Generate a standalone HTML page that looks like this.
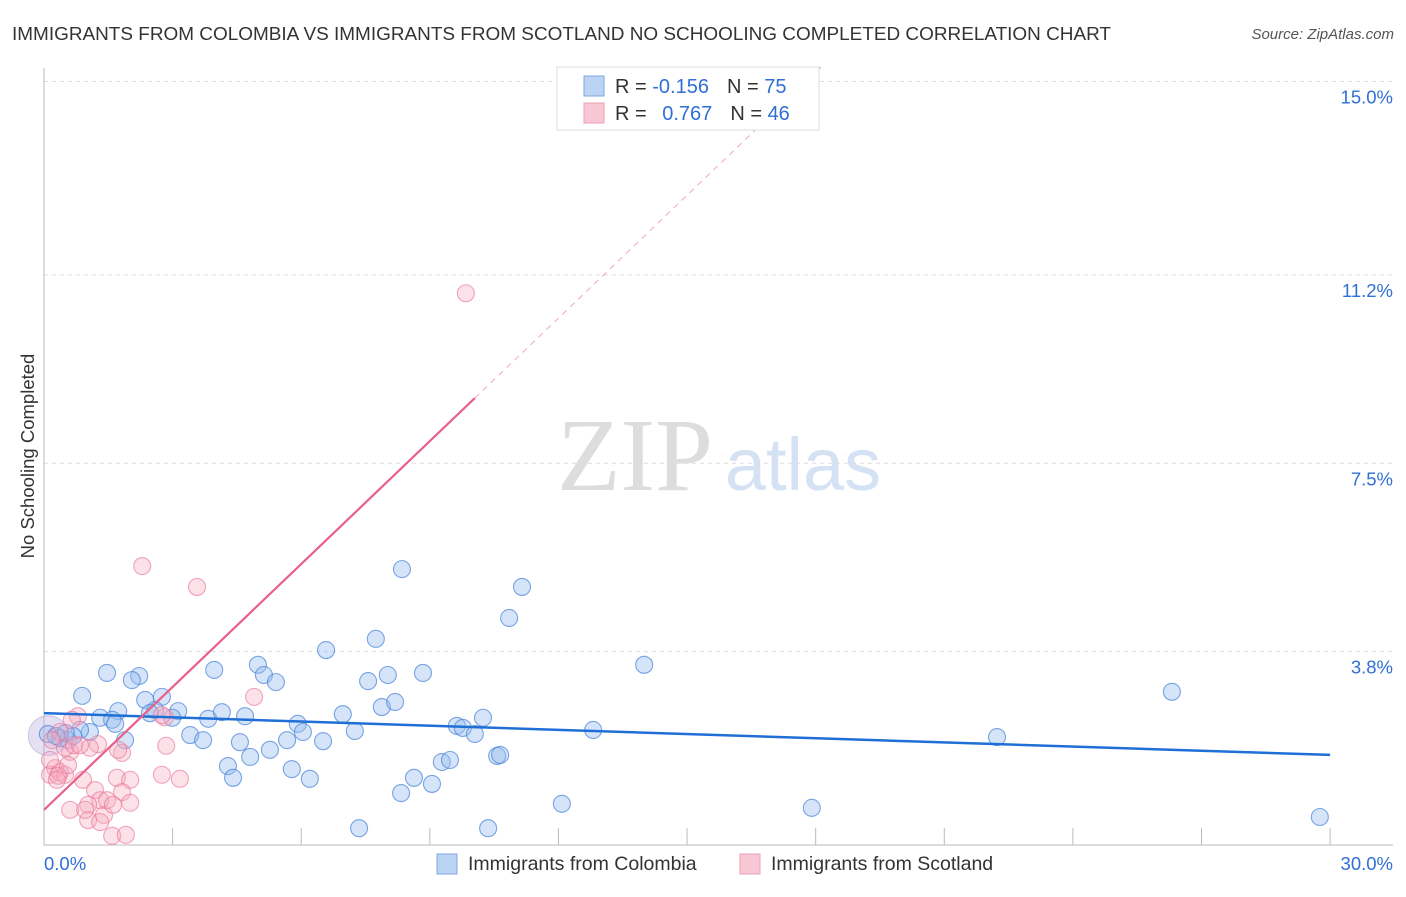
<!DOCTYPE html>
<html><head><meta charset="utf-8"><style>
body{margin:0;background:#fff;font-family:"Liberation Sans",sans-serif;}
svg text{font-family:"Liberation Sans",sans-serif;}
</style></head><body>
<svg id="chart" width="1406" height="892">
<text x="12" y="40" font-size="18" fill="#333" textLength="1099" lengthAdjust="spacingAndGlyphs">IMMIGRANTS FROM COLOMBIA VS IMMIGRANTS FROM SCOTLAND NO SCHOOLING COMPLETED CORRELATION CHART</text>
<text x="1394" y="39" font-size="15" fill="#555" font-style="italic" text-anchor="end">Source: ZipAtlas.com</text>
<text x="34" y="456" font-size="18.5" fill="#333" text-anchor="middle" transform="rotate(-90 34 456)">No Schooling Completed</text>
<g><text x="635" y="490" font-size="104" fill="#ddd" style="font-family:'Liberation Serif',serif" text-anchor="middle">ZIP</text><text x="803" y="490" font-size="74" fill="#d5e2f4" text-anchor="middle">atlas</text></g>
<g id="grid"></g><g id="axes"></g><g id="pts"></g><g id="lines"></g>
<g>
<rect x="557" y="67" width="262" height="63" fill="#fff" stroke="#ddd"/>
<rect x="584" y="76" width="20" height="20" fill="#bcd4f4" stroke="#7fa8e0"/>
<rect x="584" y="103" width="20" height="20" fill="#f8c6d4" stroke="#eba0b6"/>
<text x="615" y="93" font-size="20" fill="#333">R = <tspan fill="#2f6fd6">-0.156</tspan><tspan dx="18">N = </tspan><tspan fill="#2f6fd6">75</tspan></text>
<text x="615" y="120" font-size="20" fill="#333">R = <tspan fill="#2f6fd6" dx="10">0.767</tspan><tspan dx="18">N = </tspan><tspan fill="#2f6fd6">46</tspan></text>
</g>
<g>
<rect x="437" y="854" width="20" height="20" fill="#bcd4f4" stroke="#7fa8e0"/>
<text x="468" y="870" font-size="19.5" fill="#333">Immigrants from Colombia</text>
<rect x="740" y="854" width="20" height="20" fill="#f8c6d4" stroke="#eba0b6"/>
<text x="771" y="870" font-size="19.5" fill="#333">Immigrants from Scotland</text>
</g>
<text x="44" y="870" font-size="18.5" fill="#2f6fd6">0.0%</text>
<text x="1393" y="870" font-size="18.5" fill="#2f6fd6" text-anchor="end">30.0%</text>
</svg>
<script>
const yTicks=[3.8,7.5,11.2,15.0];
const yTickLabels=["3.8%","7.5%","11.2%","15.0%"];
const xTicks=[0,3,6,9,12,15,18,21,24,27,30];
const colX=[0.89,1.47,2.22,2.05,2.75,2.36,1.73,1.31,1.59,1.89,0.37,0.56,1.07,0.84,2.59,2.47,3.13,2.99,3.41,3.71,3.83,4.15,3.97,4.69,4.99,5.13,5.41,4.57,4.81,4.29,4.41,5.27,5.67,5.78,5.92,6.04,6.20,6.51,6.58,6.97,7.25,7.56,7.74,7.88,8.02,8.19,8.35,8.84,8.63,8.33,9.05,9.28,9.47,9.63,9.77,10.05,10.24,10.57,10.64,10.85,11.15,12.81,12.08,7.35,10.36,14.00,17.91,22.23,26.31,29.76,0.09,0.28,0.68,0.51,1.66];
const colY=[2.93,3.38,3.32,3.24,2.91,2.85,2.63,2.50,2.46,2.06,2.10,2.06,2.22,2.26,2.65,2.59,2.63,2.50,2.16,2.06,2.48,2.61,3.44,2.53,3.54,3.34,3.20,2.02,1.73,1.55,1.32,1.87,2.06,1.49,2.38,2.22,1.30,2.04,3.83,2.57,2.24,3.22,4.05,2.71,3.34,2.81,5.42,3.38,1.32,1.02,1.20,1.63,1.67,2.34,2.30,2.18,2.50,1.75,1.77,4.46,5.07,2.26,0.81,0.33,0.33,3.54,0.73,2.12,3.01,0.55,2.18,2.14,2.14,2.20,2.38];
const scoX=[2.29,3.57,9.84,4.90,2.82,0.79,0.65,0.37,1.26,1.07,0.61,0.26,0.14,0.37,0.49,0.91,0.33,0.61,1.19,1.31,1.03,1.03,1.40,1.59,1.91,1.82,1.73,1.70,2.01,1.82,1.47,2.75,3.17,2.85,2.01,2.75,0.19,0.49,0.70,0.30,0.84,1.31,0.14,0.56,1.61,0.96];
const scoY=[5.48,5.07,10.84,2.91,2.51,2.53,2.46,2.22,1.98,1.91,1.83,1.51,1.38,1.43,1.38,1.28,1.36,0.69,1.08,0.88,0.79,0.49,0.59,0.18,0.20,1.81,1.87,1.32,1.28,1.04,0.88,1.38,1.30,1.95,0.83,2.55,2.06,1.91,1.96,1.28,1.96,0.45,1.67,1.57,0.79,0.69];
const colTrend=[2.59,1.77];
const scoTrend=[0.69,0.805];
const NS="http://www.w3.org/2000/svg";
const X=v=>44+v*42.87, Y=v=>845-v*50.9;
function mk(p,t,a){const e=document.createElementNS(NS,t);for(const k in a)e.setAttribute(k,a[k]);p.appendChild(e);return e;}
const grid=document.getElementById('grid'),axes=document.getElementById('axes'),pts=document.getElementById('pts'),lines=document.getElementById('lines');
yTicks.forEach((t,i)=>{
 const l=mk(grid,'line',{x1:44,x2:1393,y1:Y(t),y2:Y(t),stroke:'#ddd','stroke-dasharray':'4,4'});
 
 
 const tx=mk(axes,'text',{x:1393,y:Y(t)+22,'font-size':18.5,fill:'#2f6fd6','text-anchor':'end'});
 tx.textContent=yTickLabels[i];
 
 
});
mk(axes,'line',{x1:44,x2:44,y1:68,y2:845,stroke:'#bbb'});
mk(axes,'line',{x1:44,x2:1393,y1:845,y2:845,stroke:'#bbb'});
xTicks.forEach(t=>{
 const l=mk(axes,'line',{x1:X(t),x2:X(t),y1:828,y2:845,stroke:'#bbb'});
 
 
});
const big=mk(pts,'circle',{cx:X(0.1),cy:Y(2.15),r:20,fill:'rgba(180,170,220,0.35)',stroke:'rgba(160,150,210,0.5)'});


colX.forEach((v,i)=>{
 const c=mk(pts,'circle',{cx:X(v),cy:Y(colY[i]),r:8.5,fill:'rgba(150,188,238,0.4)',stroke:'rgba(70,130,215,0.7)','stroke-width':1.1});
 
 
});
scoX.forEach((v,i)=>{
 const c=mk(pts,'circle',{cx:X(v),cy:Y(scoY[i]),r:8.5,fill:'rgba(245,170,192,0.35)',stroke:'rgba(232,120,155,0.65)','stroke-width':1.1});
 
 
});
const bl=mk(lines,'line',{x1:X(0),y1:Y(colTrend[0]),x2:X(30),y2:Y(colTrend[1]),stroke:'#1f6fd6','stroke-width':2.5});


const pe=10.05, pTop=(15.3-scoTrend[0])/scoTrend[1];
const pl=mk(lines,'line',{x1:X(0),y1:Y(scoTrend[0]),x2:X(pe),y2:Y(scoTrend[0]+scoTrend[1]*pe),stroke:'#e8608a','stroke-width':2.2});


const pd=mk(lines,'line',{x1:X(pe),y1:Y(scoTrend[0]+scoTrend[1]*pe),x2:X(pTop),y2:Y(15.3),stroke:'#f0a8bd','stroke-width':1,'stroke-dasharray':'6,5'});


</script>
</body></html>
